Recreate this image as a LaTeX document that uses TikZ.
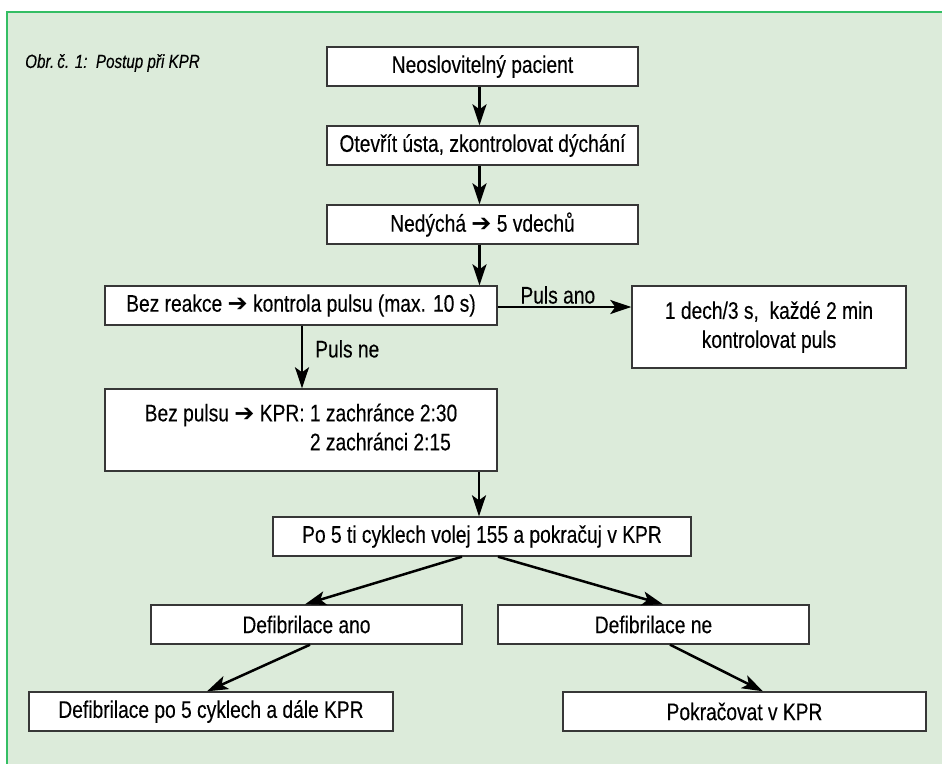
\documentclass[tikz,border=0pt]{standalone}
\usepackage{fontspec}
\setmainfont[FakeStretch=0.8,FakeBold=0.25]{Liberation Sans}
\newfontfamily\symf{DejaVu Sans}
\usetikzlibrary{arrows.meta,calc}
\definecolor{bggreen}{RGB}{220,235,218}
\definecolor{linegreen}{RGB}{52,190,100}
\definecolor{boxgray}{RGB}{55,55,55}
\newcommand{\harr}{{\symf\fontsize{24}{20}\selectfont ➔}}
\begin{document}
\begin{tikzpicture}[x=1pt,y=-1pt,
  box/.style={draw=boxgray, line width=1.4pt, fill=white, inner sep=0pt,
    minimum height=39pt, align=center, font=\fontsize{24}{29}\selectfont},
  arr/.style={draw=black, line width=2.5pt,
    -{Stealth[length=21pt,width=14pt,inset=5pt]}},
  lbl/.style={font=\fontsize{24}{29}\selectfont, inner sep=2pt}]
\useasboundingbox (0,0) rectangle (942,764);
\fill[bggreen] (7,12) rectangle (942,764);
\draw[linegreen, line width=2pt] (942,12) -- (7,12) -- (7,764);

\node[anchor=west, font=\fontsize{19}{20}\selectfont\itshape, inner sep=0pt] (title) at (25,63) {Obr.\,č. 1:\ \ Postup při KPR};

\node[box, minimum width=311pt] (n1) at (482.5,66.5) {Neoslovitelný pacient};
\node[box, minimum width=311pt] (n2) at (482.5,145.5) {Otevřít ústa, zkontrolovat dýchání};
\node[box, minimum width=311pt] (n3) at (482.5,224.5) {Nedýchá \harr\ 5 vdechů};
\node[box, minimum width=392pt] (n4) at (301,305.5) {Bez reakce \harr\ kontrola pulsu (max. 10 s)};
\node[box, minimum width=274pt, minimum height=82pt] (n5) at (769,327) {1 dech/3 s,\ \ každé 2 min\\kontrolovat puls};
\node[box, minimum width=392pt, minimum height=82pt] (n6) at (301,430) {\begin{tabular}{@{}l@{ }l@{}}Bez pulsu \harr\ KPR: & 1 zachránce 2:30\\ & 2 zachránci 2:15\end{tabular}};
\node[box, minimum width=418pt] (n7) at (482,536.5) {Po 5 ti cyklech volej 155 a pokračuj v KPR};
\node[box, minimum width=311pt] (n8) at (306.5,624.5) {Defibrilace ano};
\node[box, minimum width=311pt] (n9) at (653.5,624.5) {Defibrilace ne};
\node[box, minimum width=364pt] (n10) at (211,711.5) {Defibrilace po 5 cyklech a dále KPR};
\node[box, minimum width=363pt] (n11) at (744.5,711.5) {Pokračovat v KPR};

\draw[arr] ([xshift=-3pt]n1.south) -- ([xshift=-3pt]n2.north);
\draw[arr] ([xshift=-3pt]n2.south) -- ([xshift=-3pt]n3.north);
\draw[arr] ([xshift=-3pt]n3.south) -- ([xshift=-3pt]n3.south |- n4.north);
\draw[arr] ([yshift=-1.5pt]n4.east) -- ([yshift=-1.5pt]n4.east -| n5.west)
  node[lbl, above, pos=0.45] (pa) {Puls ano};
\draw[arr] ([xshift=1pt]n4.south) -- ([xshift=1pt]n6.north)
  node[lbl, right, pos=0.37, xshift=10pt] (pn) {Puls ne};
\draw[arr] ([xshift=-3pt]n7.north |- n6.south) -- ([xshift=-3pt]n7.north);
\draw[arr] ([xshift=-20pt]n7.south) -- ([xshift=-1.5pt]n8.north);
\draw[arr] ([xshift=16pt]n7.south) -- ([xshift=9.5pt]n9.north);
\draw[arr] ([xshift=3.5pt]n8.south) -- ([xshift=-4pt]n10.north);
\draw[arr] ([xshift=16.5pt]n9.south) -- ([xshift=18.5pt]n11.north);
\end{tikzpicture}
\end{document}
